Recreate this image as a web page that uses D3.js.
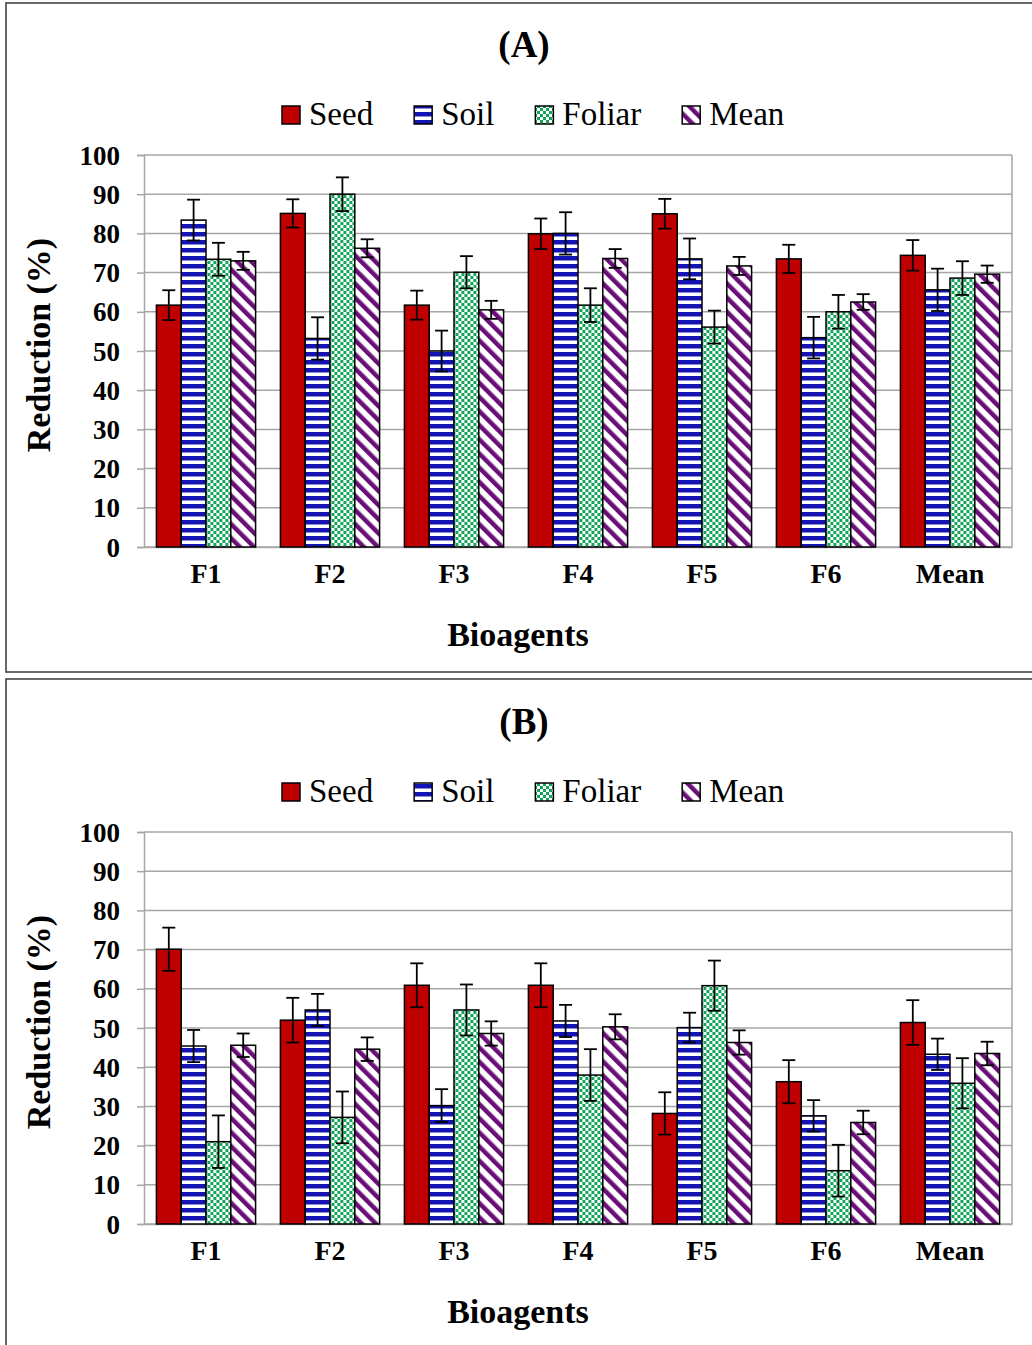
<!DOCTYPE html>
<html><head><meta charset="utf-8">
<script src="https://cdn.jsdelivr.net/npm/d3@7"></script>
<style>body{margin:0;background:#fff} svg{display:block}</style>
</head><body><svg id="c" width="1032" height="1345"></svg>
<script>
// ---- data ----
const categories = ["F1","F2","F3","F4","F5","F6","Mean"];
const seriesNames = ["Seed","Soil","Foliar","Mean"];
const yTicks = [0,10,20,30,40,50,60,70,80,90,100];

const seedA   = [61.7, 85.1, 61.7, 79.9, 85.0, 73.5, 74.4];
const soilA   = [83.4, 53.2, 50.0, 80.0, 73.5, 53.4, 65.6];
const foliarA = [73.4, 90.0, 70.1, 61.7, 56.1, 60.0, 68.6];
const meanA   = [73.0, 76.2, 60.5, 73.6, 71.7, 62.5, 69.6];
const seedAErr   = [3.8, 3.6, 3.7, 3.9, 3.8, 3.6, 3.9];
const soilAErr   = [5.2, 5.4, 5.2, 5.4, 5.2, 5.3, 5.4];
const foliarAErr = [4.2, 4.3, 4.1, 4.3, 4.2, 4.3, 4.3];
const meanAErr   = [2.3, 2.3, 2.3, 2.4, 2.3, 2.0, 2.2];

const seedB   = [70.1, 52.0, 60.9, 60.9, 28.2, 36.3, 51.4];
const soilB   = [45.4, 54.6, 30.2, 51.8, 50.1, 27.6, 43.3];
const foliarB = [21.0, 27.2, 54.6, 38.0, 60.8, 13.6, 35.9];
const meanB   = [45.6, 44.6, 48.6, 50.3, 46.3, 25.9, 43.5];
const seedBErr   = [5.5, 5.7, 5.6, 5.6, 5.4, 5.5, 5.7];
const soilBErr   = [4.1, 4.1, 4.2, 4.1, 3.8, 4.0, 4.0];
const foliarBErr = [6.7, 6.6, 6.5, 6.6, 6.4, 6.6, 6.4];
const meanBErr   = [3.0, 3.0, 3.1, 3.2, 3.1, 3.0, 3.0];

const panels = [
  {title:"(A)", values:[seedA, soilA, foliarA, meanA], errors:[seedAErr, soilAErr, foliarAErr, meanAErr]},
  {title:"(B)", values:[seedB, soilB, foliarB, meanB], errors:[seedBErr, soilBErr, foliarBErr, meanBErr]}
];

// ---- drawing ----
const svg = d3.select("#c");
const serif = "'Liberation Serif','Times New Roman',serif";
const defs = svg.append("defs");

// patterns
const pSoil = defs.append("pattern").attr("id","pSoil").attr("patternUnits","userSpaceOnUse")
  .attr("width",8).attr("height",8);
pSoil.append("rect").attr("width",8).attr("height",8).attr("fill","#fff");
pSoil.append("rect").attr("width",8).attr("height",4.5).attr("fill","#1414B4");

const pFol = defs.append("pattern").attr("id","pFol").attr("patternUnits","userSpaceOnUse")
  .attr("width",6).attr("height",6);
pFol.append("rect").attr("width",6).attr("height",6).attr("fill","#fff");
pFol.append("rect").attr("width",3).attr("height",3).attr("fill","#12A55A");
pFol.append("rect").attr("x",3).attr("y",3).attr("width",3).attr("height",3).attr("fill","#12A55A");

const pMean = defs.append("pattern").attr("id","pMean").attr("patternUnits","userSpaceOnUse")
  .attr("width",10).attr("height",10).attr("patternTransform","rotate(-45)");
pMean.append("rect").attr("width",10).attr("height",10).attr("fill","#fff");
pMean.append("rect").attr("width",4.5).attr("height",10).attr("fill","#6A0F78");

const fills = ["#C00000","url(#pSoil)","url(#pFol)","url(#pMean)"];

const plotL = 144, plotR = 1012, plotTop = 155, plotBot = 547;
const panelOffset = 677;

const x0 = d3.scaleBand().domain(categories).range([plotL, plotR]).paddingInner(0.2).paddingOuter(0.1);
const x1 = d3.scaleBand().domain(seriesNames).range([0, x0.bandwidth()]);

panels.forEach((p, pi) => {
  const oy = pi * panelOffset;
  const g = svg.append("g");
  // panel border
  g.append("rect").attr("x",6).attr("y", pi===0 ? 3 : 679)
    .attr("width",1100).attr("height", pi===0 ? 669 : 700)
    .attr("fill","none").attr("stroke","#444").attr("stroke-width",1.6);

  const y = d3.scaleLinear().domain([0,100]).range([plotBot+oy, plotTop+oy]);

  // title
  g.append("text").attr("x",524).attr("y",57+oy).attr("text-anchor","middle")
    .attr("font-family",serif).attr("font-weight","bold").attr("font-size",37).text(p.title);

  // legend
  const leg = g.append("g");
  let lx = 282;
  seriesNames.forEach((s, i) => {
    leg.append("rect").attr("x",lx).attr("y",106+oy).attr("width",18).attr("height",18)
      .attr("fill",fills[i]).attr("stroke","#000").attr("stroke-width",1.5);
    const t = leg.append("text").attr("x",lx+27).attr("y",125+oy)
      .attr("font-family",serif).attr("font-size",33).attr("fill","#000").text(s);
    lx += 27 + t.node().getComputedTextLength() + 41;
  });

  // gridlines
  g.append("g").selectAll("line").data(yTicks).join("line")
    .attr("x1",plotL).attr("x2",plotR).attr("y1",d=>y(d)).attr("y2",d=>y(d))
    .attr("stroke","#A6A6A6").attr("stroke-width",1.5);
  // plot border right
  g.append("line").attr("x1",plotR).attr("x2",plotR).attr("y1",plotTop+oy).attr("y2",plotBot+oy)
    .attr("stroke","#A6A6A6").attr("stroke-width",1.5);

  // y axis
  const yAxis = d3.axisLeft(y).tickValues(yTicks).tickSize(7).tickPadding(17);
  const ya = g.append("g").attr("transform",`translate(${plotL},0)`).call(yAxis);
  ya.select(".domain").attr("stroke","#A6A6A6").attr("stroke-width",1.5);
  ya.selectAll(".tick line").attr("stroke","#A6A6A6").attr("stroke-width",1.5);
  ya.selectAll(".tick text").attr("font-family",serif).attr("font-weight","bold")
    .attr("font-size",27).attr("fill","#000").attr("dy","0.34em");

  // x axis
  const xAxis = d3.axisBottom(x0).tickSize(0).tickPadding(20);
  const xa = g.append("g").attr("transform",`translate(0,${plotBot+oy})`).call(xAxis);
  xa.select(".domain").attr("stroke","#A6A6A6").attr("stroke-width",1.5);
  xa.selectAll(".tick text").attr("font-family",serif).attr("font-weight","bold")
    .attr("font-size",28).attr("fill","#000").attr("dy","0.71em").attr("y",16);

  // bars
  const rows = categories.map((c, ci) => seriesNames.map((s, si) => ({c, s, si, v:p.values[si][ci], e:p.errors[si][ci]})));
  const grp = g.append("g").selectAll("g").data(rows).join("g")
    .attr("transform", (d,i) => `translate(${x0(categories[i])},0)`);
  grp.selectAll("rect").data(d=>d).join("rect")
    .attr("x", d=>x1(d.s)).attr("width", x1.bandwidth())
    .attr("y", d=>y(d.v)).attr("height", d=>y(0)-y(d.v))
    .attr("fill", d=>fills[d.si]).attr("stroke","#000").attr("stroke-width",1.5);
  // error bars
  const eb = grp.selectAll("g.eb").data(d=>d).join("g").attr("class","eb")
    .attr("stroke","#000").attr("stroke-width",1.8);
  const cx = d => x1(d.s) + x1.bandwidth()/2;
  eb.append("line").attr("x1",cx).attr("x2",cx).attr("y1",d=>y(d.v+d.e)).attr("y2",d=>y(d.v-d.e));
  eb.append("line").attr("x1",d=>cx(d)-6.5).attr("x2",d=>cx(d)+6.5).attr("y1",d=>y(d.v+d.e)).attr("y2",d=>y(d.v+d.e));
  eb.append("line").attr("x1",d=>cx(d)-6.5).attr("x2",d=>cx(d)+6.5).attr("y1",d=>y(d.v-d.e)).attr("y2",d=>y(d.v-d.e));

  // axis titles
  g.append("text").attr("transform",`translate(50,${345+oy}) rotate(-90)`).attr("text-anchor","middle")
    .attr("font-family",serif).attr("font-weight","bold").attr("font-size",34).text("Reduction (%)");
  g.append("text").attr("x",518).attr("y",646+oy).attr("text-anchor","middle")
    .attr("font-family",serif).attr("font-weight","bold").attr("font-size",34).text("Bioagents");
});
</script></body></html>
